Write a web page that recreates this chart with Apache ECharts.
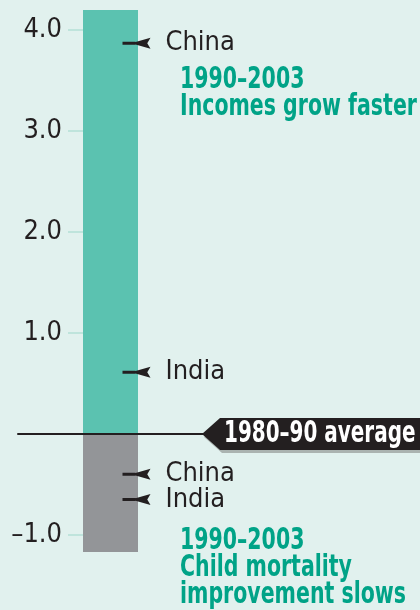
<!DOCTYPE html>
<html>
<head>
<meta charset="utf-8">
<script src="https://cdn.jsdelivr.net/npm/echarts@6/dist/echarts.min.js"></script>
<style>
  html, body { margin: 0; padding: 0; background: #e1f1ee; }
  #chart { width: 420px; height: 610px; }
</style>
</head>
<body>
<div id="chart"></div>
<script>
// data
var categories = ['change'];
var incomeGrowth = [4.2];      // teal bar, above the 1980-90 average
var mortalityChange = [-1.17]; // gray bar, below it
var markerNames = ['China', 'India', 'China', 'India'];
var markerValues = [3.87, 0.61, -0.40, -0.65];
var tickValues = [-1, 1, 2, 3, 4];
var axisMin = -1.2, axisMax = 4.2;

var FONT = '"Liberation Sans Narrow", "DejaVu Sans Condensed", sans-serif';
var ink = '#231f20';
var green = '#00a387';
var squeeze = 0.76; // condensed look for the bold notes

var markers = markerNames.map(function (n, i) {
    return { name: n, value: [0, markerValues[i]] };
});

var option = {
    backgroundColor: '#e1f1ee',
    animation: false,
    grid: {
        left: 18,
        right: 217,
        top: 10,
        bottom: 55,
        outerBoundsMode: 'none'
    },
    xAxis: {
        type: 'category',
        data: categories,
        axisLine: { show: true, onZero: true, lineStyle: { color: ink, width: 2 } },
        axisTick: { show: false },
        axisLabel: { show: false },
        z: 10
    },
    yAxis: {
        type: 'value',
        min: axisMin,
        max: axisMax,
        offset: -65,
        axisLine: { show: false },
        splitLine: { show: false },
        axisTick: {
            show: true,
            length: 15,
            customValues: tickValues,
            lineStyle: { color: '#bfe4dc', width: 2 }
        },
        axisLabel: {
            margin: 21,
            customValues: tickValues,
            color: ink,
            fontFamily: FONT,
            fontSize: 27,
            formatter: function (v) {
                return v.toFixed(1).replace('-', '\u2013');
            }
        }
    },
    series: [
        {
            name: 'Incomes',
            type: 'bar',
            stack: 'all',
            barWidth: 55,
            itemStyle: { color: '#5bc2b0' },
            data: incomeGrowth
        },
        {
            name: 'Child mortality',
            type: 'bar',
            stack: 'all',
            barWidth: 55,
            itemStyle: { color: '#939598' },
            data: mortalityChange
        },
        {
            name: 'markers',
            type: 'scatter',
            symbol: 'path://M0,3.6 L12,3.6 L12,6.4 L0,6.4 Z M8,5 L26,0 L23,5 L26,10 Z',
            symbolSize: [28, 11],
            symbolOffset: [26, 0],
            itemStyle: { color: ink, opacity: 1 },
            label: {
                show: true,
                position: 'right',
                distance: 15,
                formatter: '{b}',
                color: ink,
                fontFamily: FONT,
                fontSize: 27
            },
            clip: false,
            z: 5,
            data: markers
        }
    ],
    graphic: [
        {
            type: 'text',
            x: 180,
            y: 67,
            scaleX: squeeze,
            style: {
                text: '1990\u20132003\nIncomes grow faster',
                fill: green,
                font: 'bold 30px ' + FONT,
                lineHeight: 27,
                verticalAlign: 'top'
            }
        },
        {
            type: 'text',
            x: 180,
            y: 528,
            scaleX: squeeze,
            style: {
                text: '1990\u20132003\nChild mortality\nimprovement slows',
                fill: green,
                font: 'bold 30px ' + FONT,
                lineHeight: 27,
                verticalAlign: 'top'
            }
        },
        {
            type: 'polygon',
            shape: { points: [[204, 437], [222, 421], [422, 421], [422, 453], [222, 453]] },
            style: { fill: '#aab3b0' }
        },
        {
            type: 'polygon',
            shape: { points: [[202, 434], [220, 418], [420, 418], [420, 450], [220, 450]] },
            style: { fill: ink }
        },
        {
            type: 'text',
            x: 224,
            y: 434,
            scaleX: 0.74,
            style: {
                text: '1980\u201390 average',
                fill: '#ffffff',
                font: 'bold 30px ' + FONT,
                verticalAlign: 'middle'
            }
        }
    ]
};

var chart = echarts.init(document.getElementById('chart'));
chart.setOption(option);
window.onresize = function () {
    chart.resize();
};
</script>
</body>
</html>
